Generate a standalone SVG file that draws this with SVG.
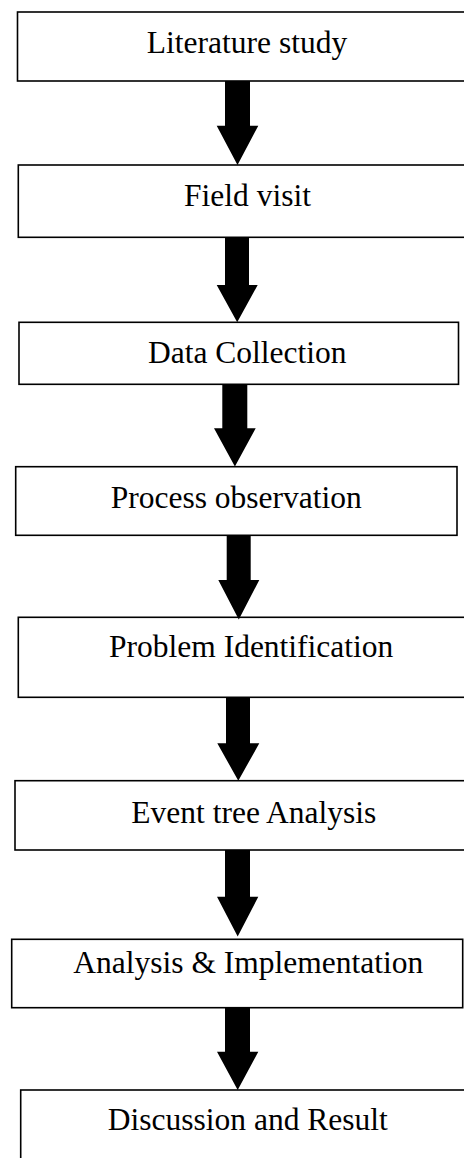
<svg xmlns="http://www.w3.org/2000/svg" width="464" height="1158" viewBox="0 0 464 1158">
<style>
.box{fill:#fff;stroke:#000;stroke-width:1.6}
.lbl{font-family:"Liberation Serif","Times New Roman",serif;font-size:31.5px;fill:#000;text-anchor:middle}
.arr{fill:#000;stroke:none}
</style>
<rect width="464" height="1158" fill="#fff"/>
<g id="n1"><rect class="box" x="17.5" y="12" width="450" height="69"/><text class="lbl" x="247" y="53.3">Literature study</text></g>
<g id="n2"><rect class="box" x="18.3" y="165" width="450" height="72.3"/><text class="lbl" x="247.5" y="206">Field visit</text></g>
<g id="n3"><rect class="box" x="19" y="322.3" width="439.5" height="62"/><text class="lbl" x="247.3" y="363.3">Data Collection</text></g>
<g id="n4"><rect class="box" x="15.7" y="466.7" width="441.3" height="68.6"/><text class="lbl" x="236.3" y="507.7">Process observation</text></g>
<g id="n5"><rect class="box" x="18.3" y="617.3" width="450" height="80"/><text class="lbl" x="251.2" y="657.3">Problem Identification</text></g>
<g id="n6"><rect class="box" x="15" y="780.7" width="452" height="69.3"/><text class="lbl" x="253.8" y="822.7">Event tree Analysis</text></g>
<g id="n7"><rect class="box" x="11.7" y="939.3" width="451" height="68.4"/><text class="lbl" x="248.3" y="973.3">Analysis &amp; Implementation</text></g>
<g id="n8"><rect class="box" x="20.7" y="1090" width="450" height="80"/><text class="lbl" x="247.8" y="1130">Discussion and Result</text></g>
<g id="connectors">
<polygon class="arr" points="225,81 250,81 250,125.7 258.3,125.7 237.5,165 216.7,125.7 225,125.7"/>
<polygon class="arr" points="225,237.3 249,237.3 249,285 257.7,285 237.2,322.3 216.7,285 225,285"/>
<polygon class="arr" points="222.3,384.3 247.3,384.3 247.3,428.3 255.7,428.3 234.9,466.5 214,428.3 222.3,428.3"/>
<polygon class="arr" points="226.7,535.3 250.7,535.3 250.7,580 259.3,580 238.8,619.5 218.3,580 226.7,580"/>
<polygon class="arr" points="226,697.3 250,697.3 250,743.3 259.3,743.3 238.3,780.7 217.3,743.3 226,743.3"/>
<polygon class="arr" points="225,850 250,850 250,896.7 258.3,896.7 237.7,936.5 217,896.7 225,896.7"/>
<polygon class="arr" points="225,1007 250,1007 250,1051.7 258.3,1051.7 237.7,1090 217,1051.7 225,1051.7"/>
</g>
</svg>
